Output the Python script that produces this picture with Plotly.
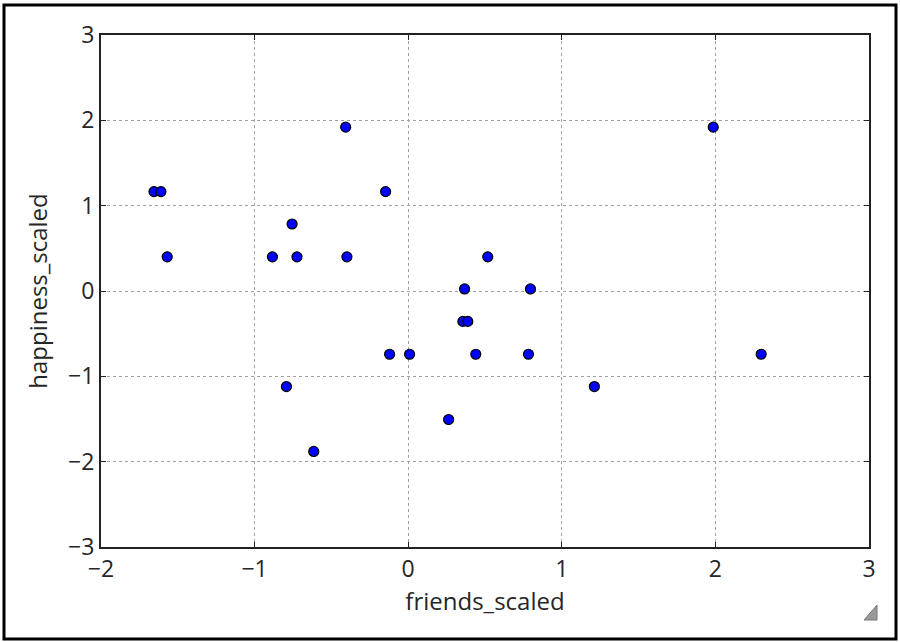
import plotly.graph_objects as go

friends_scaled = [-1.655, -1.61, -1.569, -0.884, -0.756, -0.724, -0.407, -0.399, -0.147,
                  0.518, 0.367, 0.796, 0.356, 0.388, -0.121, 0.009, 0.44, 0.783,
                  -0.793, 1.212, 0.263, -0.615, 1.986, 2.298]
happiness_scaled = [1.165, 1.165, 0.40, 0.40, 0.785, 0.40, 1.92, 0.40, 1.165,
                    0.40, 0.024, 0.024, -0.356, -0.356, -0.741, -0.741, -0.741, -0.741,
                    -1.12, -1.12, -1.506, -1.88, 1.92, -0.741]
x_ticks = [-2, -1, 0, 1, 2, 3]
y_ticks = [-3, -2, -1, 0, 1, 2, 3]

FONT = "Open Sans"
TXT = "#262626"

fig = go.Figure()
fig.add_trace(go.Scatter(
    x=friends_scaled, y=happiness_scaled, mode="markers",
    marker=dict(color="#0000ff", size=10, line=dict(color="black", width=1.2)),
    showlegend=False,
))

axis_common = dict(
    showline=True, linecolor="#222", linewidth=2, mirror="ticks",
    ticks="inside", ticklen=5, tickcolor="#222", tickwidth=1,
    showgrid=True, gridcolor="#a0a0a0", griddash="dot", gridwidth=1,
    zeroline=False,
    tickfont=dict(family=FONT, size=23, color=TXT),
)

fig.update_xaxes(range=[-2, 3], tickvals=x_ticks,
                 ticktext=[str(v).replace("-", "\u2212") for v in x_ticks],
                 title=dict(text="friends_scaled", font=dict(family=FONT, size=24, color=TXT), standoff=8),
                 **axis_common)
fig.update_yaxes(range=[-3, 3], tickvals=y_ticks,
                 ticktext=[str(v).replace("-", "\u2212") for v in y_ticks],
                 title=dict(text="happiness_scaled", font=dict(family=FONT, size=24, color=TXT), standoff=14),
                 **axis_common)

# outer frame
fig.add_shape(type="rect", xref="paper", yref="paper",
              x0=(4 - 101) / 768, x1=(896 - 101) / 768,
              y0=(547 - 639) / 512, y1=(547 - 5) / 512,
              line=dict(color="black", width=3), fillcolor="rgba(0,0,0,0)", layer="above")
# resize grip glyph
fig.add_shape(type="path", xref="paper", yref="paper",
              path="M {a},{b} L {c},{b} L {c},{d} Z".format(
                  a=(864 - 101) / 768, b=(547 - 620) / 512,
                  c=(877 - 101) / 768, d=(547 - 605) / 512),
              line=dict(color="#777", width=1), fillcolor="#999", layer="above")

fig.update_layout(
    width=900, height=642,
    margin=dict(l=101, r=31, t=35, b=95),
    paper_bgcolor="white", plot_bgcolor="white",
    font=dict(family=FONT),
)

fig.write_html("out.html", config={"displayModeBar": False},
               post_script="document.body.style.margin='0';")
